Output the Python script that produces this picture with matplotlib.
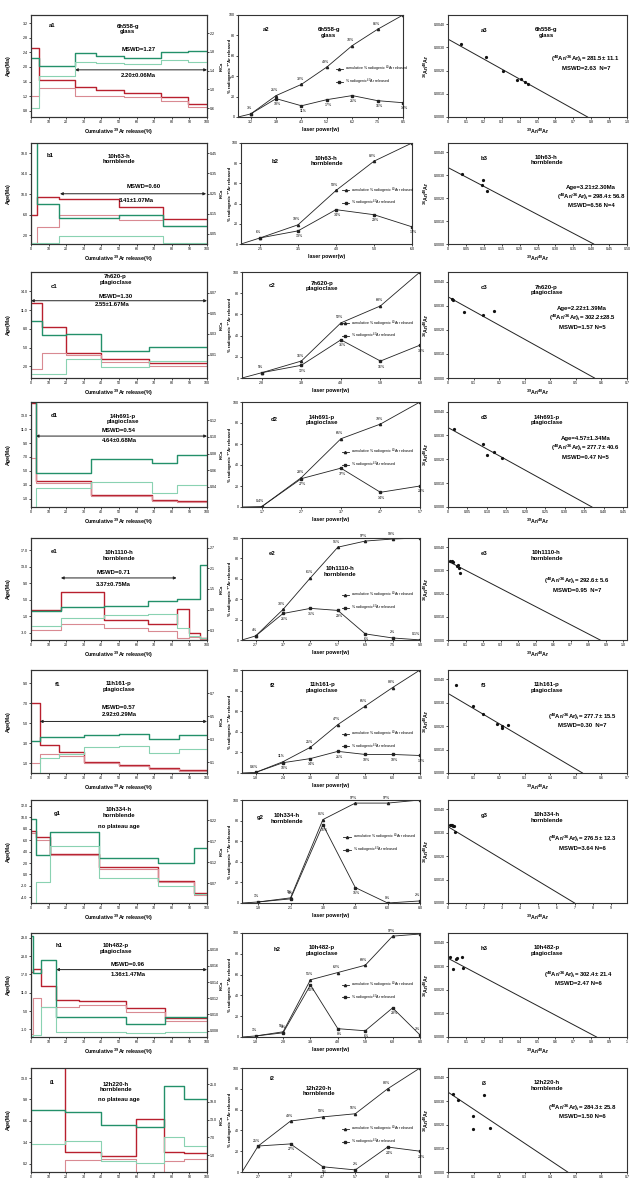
import numpy as np
import matplotlib
matplotlib.use("Agg")
from matplotlib import pyplot as plt
from matplotlib.lines import Line2D

plt.rcParams["font.family"] = ["Liberation Sans", "DejaVu Sans"]
plt.rcParams["mathtext.fontset"] = "custom"
plt.rcParams["mathtext.rm"] = "Liberation Sans"
plt.rcParams["mathtext.default"] = "regular"

RED, PINK = "#b8202e", "#d98a92"
GREEN, MINT = "#23906a", "#8ad2b2"

# ---------------- step-heating age spectra (left column) ----------------
A1_BOUNDS = [0, 4.3, 25, 37, 53, 74, 89, 100]
A1_AGE_HI = [2.53, 1.63, 1.44, 1.37, 1.30, 1.19, 0.99]
A1_AGE_LO = [1.21, 1.42, 1.20, 1.21, 1.17, 1.07, 0.90]
A1_KCA_HI = [1.667, 1.503, 1.773, 1.716, 1.667, 1.802, 1.830]
A1_KCA_LO = [0.60, 1.290, 1.596, 1.560, 1.539, 1.631, 1.596]

B1_BOUNDS = [0, 3.5, 16, 50, 75, 100]
B1_AGE_HI = [6.0, 9.4, 9.1, 7.6, 5.2]
B1_AGE_LO = [0.4, 3.6, 5.9, 5.0, 3.8]
B1_KCA_HI = [0.6, 0.20, 0.13, 0.146, 0.089]
B1_KCA_LO = [0.003, 0.005, 0.04, 0.04, 0.007]

C1_BOUNDS = [0, 6, 20, 40, 67, 100]
C1_AGE_HI = [12.1, 8.35, 4.13, 3.17, 2.53]
C1_AGE_LO = [1.57, 4.13, 3.87, 2.69, 2.11]
C1_KCA_HI = [0.0423, 0.0294, 0.0303, 0.0132, 0.0171]
C1_KCA_LO = [-0.0087, -0.0087, 0.0058, -0.0016, 0.0042]

D1_BOUNDS = [0, 3, 34, 69, 83, 100]
D1_AGE_HI = [14.7, 3.56, 1.48, 0.80, 0.70]
D1_AGE_LO = [6.8, 3.30, 1.40, 0.70, 0.55]
D1_KCA_HI = [0.15, 0.0572, 0.0732, 0.0688, 0.0788]
D1_KCA_LO = [0.01, 0.0388, 0.046, 0.0332, 0.0428]

E1_BOUNDS = [0, 17, 41.4, 66.2, 82.7, 90, 96.2, 100]
E1_AGE_HI = [2.48, 6.92, -0.02, -0.82, 2.65, -3.16, -4.2]
E1_AGE_LO = [-2.35, -0.9, -1.95, -2.6, -4.37, -3.97, -4.5]
E1_KCA_HI = [0.853, 0.98, 1.01, 1.14, 1.20, 1.22, 2.21]
E1_KCA_LO = [0.416, 0.66, 0.74, 0.78, 0.35, 0.13, 0.06]

F1_BOUNDS = [0, 5, 16, 30, 50, 67, 84, 100]
F1_AGE_HI = [7.0, 2.83, 2.1, 1.1, 0.77, 0.5, 0.33]
F1_AGE_LO = [1.0, 1.9, 1.67, 0.97, 0.67, 0.4, 0.23]
F1_KCA_HI = [0.286, 0.314, 0.314, 0.338, 0.343, 0.303, 0.338]
F1_KCA_LO = [0.004, 0.135, 0.17, 0.23, 0.236, 0.178, 0.213]

G1_BOUNDS = [0, 2.7, 10.6, 38.7, 72, 92.8, 100]
G1_AGE_HI = [7.63, 6.47, 3.56, 1.23, -1.1, -3.24]
G1_AGE_LO = [7.2, 6.06, 3.38, 1.0, -1.3, -3.53]
G1_KCA_HI = [0.223, 0.138, 0.193, 0.13, 0.119, 0.155]
G1_KCA_LO = [0.022, 0.072, 0.159, 0.082, 0.062, 0.044]

H1_BOUNDS = [0, 1, 5.4, 14.3, 27, 54, 76, 100]
H1_AGE_HI = [17.8, 18.8, 13.3, 8.7, 8.3, 6.1, 2.6]
H1_AGE_LO = [-2.5, 9.2, 6.25, 6.25, 6.9, 4.6, 1.9]
H1_KCA_HI = [0.0197, 0.0151, 0.01668, 0.00974, 0.00974, 0.00883, 0.00965]
H1_KCA_LO = [0.0073, 0.0075, 0.01098, 0.00783, 0.00783, 0.00767, 0.00783]

I1_BOUNDS = [0, 19.4, 39.7, 59.4, 75.6, 86.9, 100]
I1_AGE_HI = [16, 1.86, 1.36, 6.83, 1.96, 1.71]
I1_AGE_LO = [-2, 0.80, 0.85, -2, 0.55, 0.95]
I1_KCA_HI = [16.25, 15.5, 11.2, 10.6, 24.4, 19.9]
I1_KCA_LO = [4.73, 5.9, -1.0, -1.5, 7.2, 4.2]

# ---------------- laser power release curves (middle column) ----------------
A2_POWER = ["3.2", "3.8", "4.3", "5.2", "6.2", "7.5", "8.5"]
A2_CUM = [3, 21, 32, 49, 70, 86, 100]
A2_STEP = [3, 18, 11, 17, 21, 16, 14]

B2_POWER = ["2.5", "3.5", "4.0", "5.0", "6.0"]
B2_CUM = [6, 19, 53, 82, 100]
B2_STEP = [6, 13, 34, 29, 17]

C2_POWER = ["2.8", "3.8", "4.8", "5.8", "6.8"]
C2_CUM = [5, 16, 52, 68, 100]
C2_STEP = [5, 12, 36, 16, 31]

D2_POWER = ["1.7", "2.7", "3.7", "4.7", "5.7"]
D2_CUM = [0.4, 28, 65, 79, 100]
D2_STEP = [0.4, 27, 37, 14, 20]

E2_POWER = ["2.7", "3.7", "4.7", "5.7", "6.9", "7.5", "9.0"]
E2_CUM = [4, 30, 61, 91, 97, 99, 100]
E2_STEP = [4, 26, 31, 29, 6, 2, 0.1]

F2_POWER = ["1.8", "2.4", "3.0", "4.0", "5.0", "6.0", "8.0"]
F2_CUM = [0.6, 11, 25, 47, 65, 83, 100]
F2_STEP = [0.6, 10, 14, 21, 18, 18, 17]

G2_POWER = ["1.8", "2.1", "3.0", "4.0", "6.0", "8.0"]
G2_CUM = [1, 5, 81, 97, 97, 100]
G2_STEP = [1, 4, 76, 15, 0, 2]

H2_POWER = ["1.8", "2.8", "3.8", "4.8", "5.8", "6.8", "8.0"]
H2_CUM = [1, 5, 55, 62, 69, 97, 99]
H2_STEP = [1, 4, 50, 8, 6, 28, 2]

I2_POWER = ["2.7", "3.7", "4.7", "5.7", "6.8", "8.0"]
I2_CUM = [25, 49, 53, 56, 80, 100]
I2_STEP = [25, 27, 5, 2, 24, 20]

# ---------------- inverse isochrons (right column) ----------------
A3_X = [0.071, 0.212, 0.31, 0.388, 0.41, 0.43, 0.445]
A3_Y = [0.00316, 0.00257, 0.00198, 0.0016, 0.00163, 0.00149, 0.00144]
B3_X = [0.038, 0.094, 0.098, 0.108]
B3_Y = [0.00304, 0.00256, 0.00278, 0.00232]
C3_X = [0.015, 0.02, 0.064, 0.135, 0.178]
C3_Y = [0.0033, 0.00325, 0.00275, 0.0026, 0.00278]
D3_X = [0.0155, 0.09, 0.1, 0.119, 0.138]
D3_Y = [0.00325, 0.00265, 0.00216, 0.0023, 0.00206]
E3_X = [0.01, 0.02, 0.03, 0.05, 0.055, 0.065, 0.07]
E3_Y = [0.0034, 0.0034, 0.00338, 0.0032, 0.00325, 0.0031, 0.0029]
F3_X = [0.032, 0.098, 0.138, 0.19, 0.212, 0.212, 0.233]
F3_Y = [0.00378, 0.00286, 0.00253, 0.00209, 0.00191, 0.00199, 0.00203]
G3_X = [0.12, 0.18, 0.22, 0.28, 0.33, 0.38]
G3_Y = [0.00335, 0.00333, 0.00332, 0.0033, 0.00328, 0.00305]
H3_X = [0.01, 0.03, 0.045, 0.05, 0.08, 0.083]
H3_Y = [0.0034, 0.00287, 0.0033, 0.00335, 0.00338, 0.0029]
I3_X = [0.021, 0.04, 0.097, 0.097, 0.139, 0.163]
I3_Y = [0.00332, 0.00306, 0.00235, 0.00184, 0.00324, 0.00188]

# regression intercepts (y at x=0, x at y=0)
ISO_YINT = [0.00336, 0.00333, 0.00337, 0.00333, 0.0034, 0.0034, 0.00326, 0.00333, 0.00338]
ISO_XINT = [0.78, 0.407, 0.573, 0.37, 0.867, 0.526, 7.0, 0.83, 0.468]

SAMPLES = ["6h558-g\nglass", "10h63-h\nhornblende", "7h620-p\nplagioclase",
           "14h691-p\nplagioclase", "10h1110-h\nhornblende", "11h161-p\nplagioclase",
           "10h334-h\nhornblende", "10h482-p\nplagioclase", "12h220-h\nhornblende"]
ROWS = "abcdefghi"

PLATEAU_MSWD = ["MSWD=1.27", "MSWD=0.60", "MSWD=1.30", "MSWD=0.54", "MSWD=0.71",
                "MSWD=0.57", None, "MSWD=0.96", None]
PLATEAU_AGE = ["2.20±0.06Ma", "3.41±1.07Ma", "2.55±1.67Ma", "4.64±0.68Ma", "3.37±0.75Ma",
               "2.92±0.29Ma", None, "1.36±1.47Ma", None]

ISO_TEXT = [
    [r"($^{40}$Ar/$^{36}$Ar)$_i$= 281.5± 11.1", "MSWD=2.63  N=7"],
    ["Age=3.21±2.30Ma", r"($^{40}$Ar/$^{36}$Ar)$_i$= 298.4± 56.8", "MSWD=6.56 N=4"],
    ["Age=2.22±1.39Ma", r"($^{40}$Ar/$^{36}$Ar)$_i$= 302.2±28.5", "MSWD=1.57 N=5"],
    ["Age=4.57±1.34Ma", r"($^{40}$Ar/$^{36}$Ar)$_i$= 277.7± 40.6", "MSWD=0.47 N=5"],
    [r"($^{40}$Ar/$^{36}$Ar)$_i$= 292.6± 5.6", "MSWD=0.95  N=7"],
    [r"($^{40}$Ar/$^{36}$Ar)$_i$= 277.7± 15.5", "MSWD=0.30  N=7"],
    [r"($^{40}$Ar/$^{36}$Ar)$_i$= 276.5± 12.3", "MSWD=3.64 N=6"],
    [r"($^{40}$Ar/$^{36}$Ar)$_i$= 302.4± 21.4", "MSWD=2.47 N=6"],
    [r"($^{40}$Ar/$^{36}$Ar)$_i$= 284.3± 25.8", "MSWD=1.50 N=6"],
]

# ---------------- layout / per-panel styling ----------------
spectra = [
    dict(b=A1_BOUNDS, ahi=A1_AGE_HI, alo=A1_AGE_LO, khi=A1_KCA_HI, klo=A1_KCA_LO,
         ylim=(0.63, 3.42), yt=["0.8", "1.2", "1.6", "2.0", "2.4", "2.8", "3.2"],
         klim=(0.41, 2.59), kt=["0.6", "1.0", "1.4", "1.8", "2.2"],
         arrow=(25, 100, 1.92), tm=(0.61, 0.66), ta=(0.61, 0.41), lab=(0.12, 0.90), name=(0.55, 0.86)),
    dict(b=B1_BOUNDS, ahi=B1_AGE_HI, alo=B1_AGE_LO, khi=B1_KCA_HI, klo=B1_KCA_LO,
         ylim=(0.3, 20.0), yt=["2.0", "6.0", "10.0", "14.0", "18.0"],
         klim=(0.0, 0.5), kt=["0.05", "0.15", "0.25", "0.35", "0.45"],
         arrow=(16.5, 99.5, 10.1), tm=(0.64, 0.57), ta=(0.60, 0.43), lab=(0.11, 0.88), name=(0.5, 0.84)),
    dict(b=C1_BOUNDS, ahi=C1_AGE_HI, alo=C1_AGE_LO, khi=C1_KCA_HI, klo=C1_KCA_LO,
         ylim=(0.13, 17.1), yt=["2.0", "5.0", "8.0", "11.0", "14.0"],
         klim=(-0.0126, 0.090), kt=["0.01", "0.03", "0.05", "0.07"],
         arrow=(0, 100, 12.5), tm=(0.48, 0.77), ta=(0.46, 0.69), lab=(0.13, 0.86), name=(0.48, 0.93)),
    dict(b=D1_BOUNDS, ahi=D1_AGE_HI, alo=D1_AGE_LO, khi=D1_KCA_HI, klo=D1_KCA_LO,
         ylim=(-0.2, 14.9), yt=["1.0", "3.0", "5.0", "7.0", "9.0", "11.0", "13.0"],
         klim=(0.016, 0.142), kt=["0.04", "0.06", "0.08", "0.10", "0.12"],
         arrow=(2.7, 100, 10.0), tm=(0.50, 0.73), ta=(0.50, 0.635), lab=(0.13, 0.87), name=(0.52, 0.84)),
    dict(b=E1_BOUNDS, ahi=E1_AGE_HI, alo=E1_AGE_LO, khi=E1_KCA_HI, klo=E1_KCA_LO,
         ylim=(-4.77, 20.0), yt=["-3.0", "1.0", "5.0", "9.0", "13.0", "17.0"],
         klim=(0.009, 2.99), kt=["0.3", "0.9", "1.5", "2.1", "2.7"],
         arrow=(17, 82.7, 10.3), tm=(0.47, 0.66), ta=(0.47, 0.54), lab=(0.13, 0.87), name=(0.5, 0.83)),
    dict(b=F1_BOUNDS, ahi=F1_AGE_HI, alo=F1_AGE_LO, khi=F1_KCA_HI, klo=F1_KCA_LO,
         ylim=(0.0, 10.33), yt=["1.0", "3.0", "5.0", "7.0", "9.0"],
         klim=(0.004, 0.903), kt=["0.1", "0.3", "0.5", "0.7"],
         arrow=(5, 100, 5.17), tm=(0.5, 0.64), ta=(0.5, 0.565), lab=(0.15, 0.86), name=(0.5, 0.84)),
    dict(b=G1_BOUNDS, ahi=G1_AGE_HI, alo=G1_AGE_LO, khi=G1_KCA_HI, klo=G1_KCA_LO,
         ylim=(-4.99, 13.03), yt=["-4.0", "-2.0", "0.0", "2.0", "4.0", "6.0", "8.0", "10.0", "12.0"],
         klim=(0.0222, 0.269), kt=["0.07", "0.12", "0.17", "0.22"],
         arrow=None, tm=None, ta=(0.5, 0.74), lab=(0.15, 0.87), name=(0.5, 0.88)),
    dict(b=H1_BOUNDS, ahi=H1_AGE_HI, alo=H1_AGE_LO, khi=H1_KCA_HI, klo=H1_KCA_LO,
         ylim=(-3.5, 30.6), yt=["-1.0", "5.0", "11.0", "17.0", "23.0", "29.0"],
         klim=(0.00721, 0.02007), kt=["0.008", "0.010", "0.012", "0.014", "0.016", "0.018"],
         arrow=(14.3, 100, 18.6), tm=(0.55, 0.70), ta=(0.55, 0.60), lab=(0.16, 0.88), name=(0.48, 0.85)),
    dict(b=I1_BOUNDS, ahi=I1_AGE_HI, alo=I1_AGE_LO, khi=I1_KCA_HI, klo=I1_KCA_LO,
         ylim=(-1.06, 14.5), yt=["0.2", "3.4", "6.6", "9.8", "13.0"],
         klim=(-4.65, 30.4), kt=["1.0", "7.0", "13.0", "19.0", "25.0"],
         arrow=None, tm=None, ta=(0.5, 0.70), lab=(0.12, 0.86), name=(0.48, 0.82)),
]

releases = [
    dict(p=A2_POWER, c=A2_CUM, s=A2_STEP, lab=(0.17, 0.86), name=(0.55, 0.83), leg=(0.58, 0.54)),
    dict(p=B2_POWER, c=B2_CUM, s=B2_STEP, lab=(0.20, 0.82), name=(0.50, 0.82), leg=(0.58, 0.60)),
    dict(p=C2_POWER, c=C2_CUM, s=C2_STEP, lab=(0.17, 0.87), name=(0.45, 0.87), leg=(0.55, 0.58)),
    dict(p=D2_POWER, c=D2_CUM, s=D2_STEP, lab=(0.18, 0.83), name=(0.45, 0.83), leg=(0.55, 0.59)),
    dict(p=E2_POWER, c=E2_CUM, s=E2_STEP, lab=(0.17, 0.85), name=(0.55, 0.67), leg=(0.55, 0.51)),
    dict(p=F2_POWER, c=F2_CUM, s=F2_STEP, lab=(0.17, 0.85), name=(0.45, 0.83), leg=(0.55, 0.45)),
    dict(p=G2_POWER, c=G2_CUM, s=G2_STEP, lab=(0.10, 0.83), name=(0.25, 0.82), leg=(0.56, 0.71)),
    dict(p=H2_POWER, c=H2_CUM, s=H2_STEP, lab=(0.20, 0.84), name=(0.45, 0.83), leg=(0.55, 0.57)),
    dict(p=I2_POWER, c=I2_CUM, s=I2_STEP, lab=(0.17, 0.90), name=(0.43, 0.78), leg=(0.55, 0.48)),
]

isochrons = [
    dict(x=A3_X, y=A3_Y, xt=["0", "0.1", "0.2", "0.3", "0.4", "0.5", "0.6", "0.7", "0.8", "0.9", "1.0"], xmax=1.0, tx=0.77, ty=0.57),
    dict(x=B3_X, y=B3_Y, xt=["0", "0.05", "0.10", "0.15", "0.20", "0.25", "0.30", "0.35", "0.40", "0.45", "0.50"], xmax=0.5, tx=0.8, ty=0.56),
    dict(x=C3_X, y=C3_Y, xt=["0", "0.1", "0.2", "0.3", "0.4", "0.5", "0.6", "0.7"], xmax=0.7, tx=0.75, ty=0.66),
    dict(x=D3_X, y=D3_Y, xt=["0", "0.05", "0.10", "0.15", "0.20", "0.25", "0.30", "0.35", "0.40", "0.45"], xmax=0.46, tx=0.77, ty=0.65),
    dict(x=E3_X, y=E3_Y, xt=["0", "0.1", "0.2", "0.3", "0.4", "0.5", "0.6", "0.7", "0.8", "0.9", "1.0"], xmax=1.02, tx=0.72, ty=0.58),
    dict(x=F3_X, y=F3_Y, xt=["0", "0.1", "0.2", "0.3", "0.4", "0.5", "0.6", "0.7"], xmax=0.7, tx=0.75, ty=0.55),
    dict(x=G3_X, y=G3_Y, xt=["0", "1", "2", "3", "4", "5", "6", "7", "8", "9"], xmax=9.9, tx=0.75, ty=0.62),
    dict(x=H3_X, y=H3_Y, xt=["0", "0.1", "0.2", "0.3", "0.4", "0.5", "0.6", "0.7", "0.8", "0.9", "1"], xmax=1.0, tx=0.73, ty=0.60),
    dict(x=I3_X, y=I3_Y, xt=["0", "0.1", "0.2", "0.3", "0.4", "0.5", "0.6", "0.7"], xmax=0.7, tx=0.75, ty=0.62),
]

ROW_TOP = [15, 143, 272, 402, 538, 670, 800, 933, 1068]
ROW_BOT = [117, 244, 378, 507, 640, 773, 903, 1037, 1172]
COL1 = (31, 207)
COL2 = [(238, 403), (241, 412)] + [(242, 420)] * 7
COL3 = (448, 627)
W, H = 630, 1182

TICK_FS = 2.6
LABEL_FS = 3.8
TEXT_FS = 4.3


def px_axes(fig, left, right, top, bottom):
    return fig.add_axes([left / W, 1 - bottom / H, (right - left) / W, (bottom - top) / H])


def style_axes(ax):
    for sp in ax.spines.values():
        sp.set_linewidth(0.8)
        sp.set_color("#333333")
    ax.tick_params(labelsize=TICK_FS, length=1.5, width=0.5, pad=1.0)


def label_x(ax, px):
    # horizontal position (in axes fraction) of a pixel column, for y-label placement
    box = ax.get_position()
    return (px / W - box.x0) / box.width


def pct(v):
    return f"{v:g}%" if v < 1 else f"{int(round(v))}%"


def draw_spectrum(ax, s, row):
    ax2 = ax.twinx()
    b = np.asarray(s["b"], dtype=float)
    layers = ((ax, s["ahi"], s["alo"], RED, PINK), (ax2, s["khi"], s["klo"], GREEN, MINT))
    for axis, hi, lo, dark, light in layers:
        for vals, col, lw in ((hi, dark, 1.0), (lo, light, 0.8)):
            axis.step(b, list(vals) + [vals[-1]], where="post", color=col, lw=lw)
        axis.vlines([b[0], b[-1]], [lo[0], lo[-1]], [hi[0], hi[-1]], color=light, lw=0.8)

    ax.set_xlim(0, 100)
    ax.set_xticks(np.arange(0, 101, 10))
    ax.set_ylim(*s["ylim"])
    ax.set_yticks([float(t) for t in s["yt"]])
    ax.set_yticklabels(s["yt"])
    ax2.set_ylim(*s["klim"])
    ax2.set_yticks([float(t) for t in s["kt"]])
    ax2.set_yticklabels(s["kt"])
    for a in (ax, ax2):
        style_axes(a)
    ax2.tick_params(pad=0.6)
    ax.set_ylabel("Age(Ma)", fontsize=LABEL_FS, fontweight="bold")
    ax.yaxis.set_label_coords(label_x(ax, 11), 0.5)
    ax2.set_ylabel("K/Ca", fontsize=3.0, fontweight="bold")
    ax2.yaxis.set_label_coords(label_x(ax2, 219.5), 0.5)
    ax.set_xlabel(r"Cumulative $^{39}$Ar release(%)", fontsize=LABEL_FS, fontweight="bold", labelpad=1.5)

    if s["arrow"] is not None:
        x0, x1, y = s["arrow"]
        ax.annotate("", xy=(x1, y), xytext=(x0, y),
                    arrowprops=dict(arrowstyle="<|-|>", lw=0.7, color="#222222",
                                    mutation_scale=4, shrinkA=0, shrinkB=0))
        ax.text(*s["tm"], PLATEAU_MSWD[row], transform=ax.transAxes, fontsize=TEXT_FS,
                fontweight="bold", ha="center", va="center")
        ax.text(*s["ta"], PLATEAU_AGE[row], transform=ax.transAxes, fontsize=TEXT_FS,
                fontweight="bold", ha="center", va="center")
    else:
        ax.text(*s["ta"], "no plateau age", transform=ax.transAxes, fontsize=TEXT_FS,
                fontweight="bold", ha="center", va="center")
    ax.text(*s["lab"], ROWS[row] + "1", transform=ax.transAxes, fontsize=TEXT_FS,
            fontweight="bold", ha="center", va="center")
    ax.text(*s["name"], SAMPLES[row], transform=ax.transAxes, fontsize=TEXT_FS,
            fontweight="bold", ha="center", va="center", linespacing=1.1)


def draw_release(ax, s, row):
    cum = np.asarray(s["c"], dtype=float)
    step = np.asarray(s["s"], dtype=float)
    n = len(cum)
    pos = np.arange(1, n + 1)
    x0 = 0.5
    ax.plot(np.r_[x0, pos], np.r_[0, cum], color="#222222", lw=0.6)
    ax.plot(pos, cum, ls="none", marker="^", ms=1.6, color="#222222")
    ax.plot(pos, step, color="#222222", lw=0.6, marker="s", ms=1.8)
    for i in range(n - 1):
        ax.annotate(pct(cum[i]), (pos[i], cum[i]), xytext=(-1, 2.5), textcoords="offset points",
                    fontsize=2.6, ha="center", va="bottom")
    for i in range(1, n):
        # near-zero steps get their label above the marker, clear of the axis
        if step[i] < 5:
            off, va, ha = (0, 2.5), "bottom", ("right" if i == n - 1 else "center")
        else:
            off, va, ha = (1, -2.5), "top", "center"
        ax.annotate(pct(step[i]), (pos[i], step[i]), xytext=off, textcoords="offset points",
                    fontsize=2.6, ha=ha, va=va)

    ax.set_xlim(x0, n)
    ax.set_ylim(0, 100)
    ax.set_xticks(pos)
    ax.set_xticklabels(s["p"])
    ax.set_yticks(np.arange(0, 101, 20))
    style_axes(ax)
    ax.set_ylabel("% radiogenic ⁴⁰Ar released", fontsize=3.1, fontweight="bold")
    ax.yaxis.set_label_coords(label_x(ax, 231.5), 0.5)
    ax.set_xlabel("laser power(w)", fontsize=LABEL_FS, fontweight="bold", labelpad=1.5)

    handles = [Line2D([], [], color="#222222", lw=0.6, marker="^", ms=1.6),
               Line2D([], [], color="#222222", lw=0.6, marker="s", ms=1.8)]
    labels = [r"cumulative % radiogenic $^{40}$Ar released", r"% radiogenic $^{40}$Ar released"]
    ax.legend(handles, labels, loc="upper left", bbox_to_anchor=s["leg"], frameon=False,
              fontsize=2.6, handlelength=2.0, borderpad=0, labelspacing=0.7, handletextpad=0.6)
    ax.text(*s["lab"], ROWS[row] + "2", transform=ax.transAxes, fontsize=TEXT_FS,
            fontweight="bold", ha="center", va="center")
    ax.text(*s["name"], SAMPLES[row], transform=ax.transAxes, fontsize=TEXT_FS,
            fontweight="bold", ha="center", va="center", linespacing=1.1)


def draw_isochron(ax, s, row):
    yint, xint = ISO_YINT[row], ISO_XINT[row]
    xs = np.array([0.0, xint])
    ax.plot(xs, yint * (1 - xs / xint), color="#222222", lw=0.7)
    ax.plot(s["x"], s["y"], ls="none", marker="o", ms=1.3, color="#111111")

    ax.set_xlim(0, s["xmax"])
    ax.set_ylim(0, 0.0044)
    ax.set_xticks([float(t) for t in s["xt"]])
    ax.set_xticklabels(s["xt"])
    yt = [0, 0.001, 0.002, 0.003, 0.004]
    ax.set_yticks(yt)
    ax.set_yticklabels([f"{v:.4f}" for v in yt])
    style_axes(ax)
    ax.set_ylabel(r"$^{36}$Ar/$^{40}$Ar", fontsize=LABEL_FS, fontweight="bold")
    ax.yaxis.set_label_coords(label_x(ax, 431), 0.5)
    ax.set_xlabel(r"$^{39}$Ar/$^{40}$Ar", fontsize=LABEL_FS, fontweight="bold", labelpad=1.5)

    lines = ISO_TEXT[row]
    for k, txt in enumerate(lines):
        ax.text(s["tx"], s["ty"] - 0.09 * k, txt, transform=ax.transAxes, fontsize=TEXT_FS,
                fontweight="bold", ha="center", va="center")
    ax.text(0.2, 0.85, ROWS[row] + "3", transform=ax.transAxes, fontsize=TEXT_FS,
            fontweight="bold", ha="center", va="center")
    ax.text(0.55, 0.83, SAMPLES[row], transform=ax.transAxes, fontsize=TEXT_FS,
            fontweight="bold", ha="center", va="center", linespacing=1.1)


def main():
    fig = plt.figure(figsize=(W / 100, H / 100), dpi=100)
    fig.patch.set_facecolor("white")
    for row in range(9):
        top, bot = ROW_TOP[row], ROW_BOT[row]
        draw_spectrum(px_axes(fig, COL1[0], COL1[1], top, bot), spectra[row], row)
        draw_release(px_axes(fig, COL2[row][0], COL2[row][1], top, bot), releases[row], row)
        draw_isochron(px_axes(fig, COL3[0], COL3[1], top, bot), isochrons[row], row)
    fig.savefig("out.png", dpi=100)


if __name__ == "__main__":
    main()
